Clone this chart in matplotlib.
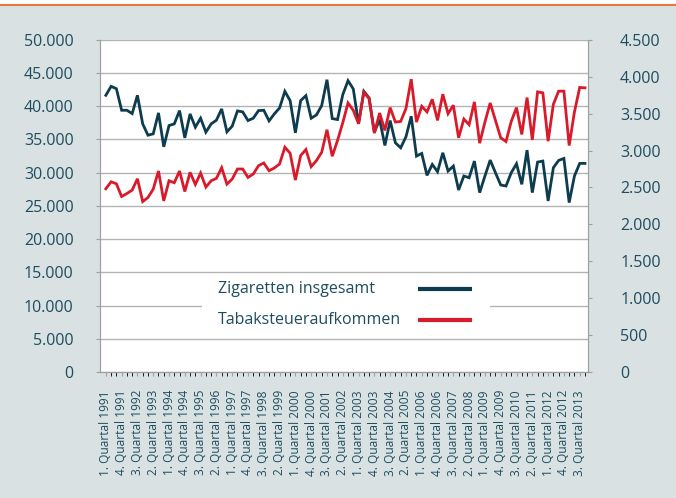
import numpy as np
import matplotlib
matplotlib.use("Agg")
import matplotlib.pyplot as plt
from matplotlib.lines import Line2D
from matplotlib.patches import Rectangle
from matplotlib.ticker import FuncFormatter, MultipleLocator

plt.rcParams['font.family'] = ['Open Sans', 'DejaVu Sans']

# Quartale 1/1991 bis 4/2013
years = list(range(1991, 2014))
quarters = [f"{q}. Quartal {y}" for y in years for q in range(1, 5)]

# Zigaretten insgesamt (Mio. Stück, linke Achse)
zigaretten = [
    41650, 43000, 42650, 39400, 39400, 38900, 41650, 37350, 35650, 35850,
    39000, 33900, 37100, 37350, 39350, 35250, 38850, 36850, 38200, 36100,
    37350, 37900, 39600, 36150, 37000, 39300, 39150, 37850, 38200, 39350,
    39400, 37800, 38850, 39750, 42250, 40850, 36000, 40850, 41600, 38200,
    38700, 40100, 44000, 38150, 38000, 41750, 43850, 42600, 37350, 42250,
    41250, 36100, 38000, 34100, 37850, 34500, 33750, 35400, 38500, 32500,
    32900, 29600, 31250, 30150, 33000, 30250, 31000, 27400, 29500, 29250,
    31750, 27000, 29500, 31900, 30000, 28150, 28000, 30000, 31350, 28250,
    33400, 27000, 31600, 31750, 25750, 30750, 31850, 32150, 25500, 29500,
    31400, 31400,
]

# Tabaksteueraufkommen (Mio. Euro, rechte Achse)
tabaksteuer = [
    2482, 2577, 2550, 2377, 2418, 2464, 2618, 2309, 2364, 2477,
    2723, 2318, 2591, 2564, 2723, 2445, 2705, 2541, 2695, 2505,
    2591, 2623, 2768, 2545, 2614, 2750, 2750, 2636, 2682, 2795,
    2832, 2727, 2764, 2818, 3045, 2964, 2600, 2932, 3014, 2782,
    2864, 2977, 3282, 2923, 3136, 3377, 3645, 3545, 3364, 3786,
    3705, 3236, 3509, 3273, 3582, 3386, 3395, 3568, 3968, 3386,
    3600, 3523, 3695, 3409, 3764, 3500, 3614, 3173, 3427, 3350,
    3659, 3100, 3386, 3645, 3409, 3173, 3123, 3395, 3582, 3218,
    3718, 3145, 3795, 3782, 3127, 3627, 3805, 3805, 3068, 3523,
    3855, 3850,
]

series_names = ['Zigaretten insgesamt', 'Tabaksteueraufkommen']

bg = '#d9e1e3'
teal = '#1d4d5e'
grid_c = '#b4b4b4'
dark = '#0d3c4e'
red = '#d91a2a'

W, H = 676, 498
fig = plt.figure(figsize=(W / 100, H / 100), dpi=100, facecolor=bg)
fig.add_artist(Rectangle((0, 0.989), 1, 0.011, transform=fig.transFigure,
                         facecolor='white', edgecolor='none'))
fig.add_artist(Line2D([0, 1], [0.989, 0.989], transform=fig.transFigure,
                      color='#e9773f', lw=1.5))

ax = fig.add_axes([0.148, 0.253, 0.722, 0.667])
ax2 = ax.twinx()

x = np.arange(len(quarters))
ax.plot(x, zigaretten, color=dark, lw=2.0, solid_joinstyle='miter')
ax2.plot(x, tabaksteuer, color=red, lw=2.0, solid_joinstyle='miter')

ax.set_xlim(-1.1, 91.6)
ax.set_ylim(0, 50000)
ax2.set_ylim(0, 4500)

fmt = FuncFormatter(lambda v, p: f"{int(v):,}".replace(',', '.'))
ax.yaxis.set_major_locator(MultipleLocator(5000))
ax2.yaxis.set_major_locator(MultipleLocator(500))
ax.yaxis.set_major_formatter(fmt)
ax2.yaxis.set_major_formatter(fmt)

ax.set_xticks(x[::3])
ax.set_xticklabels(quarters[::3], rotation=90, color=teal)
ax.set_xticks(x, minor=True)

ax.grid(axis='y', color=grid_c, lw=1)
ax.set_axisbelow(True)

for a in (ax, ax2):
    a.spines['top'].set_visible(False)
    for s in ('left', 'right', 'bottom'):
        a.spines[s].set_color('#a0a0a0')
    a.tick_params(colors='#a0a0a0', labelcolor=teal, labelsize=11.5)
ax.tick_params(axis='y', length=3, pad=16)
ax2.tick_params(axis='y', length=3, pad=20)
ax.tick_params(axis='x', which='both', length=3, pad=10, labelsize=8.6)


# Legende als weisser Kasten im Diagramm (Text links, Linie rechts)
def fx(px):
    return px / W


def fy(py):
    return 1 - py / H


fig.add_artist(Rectangle((fx(202), fy(337)), fx(490) - fx(202), fy(274) - fy(337),
                         transform=fig.transFigure, facecolor='white',
                         edgecolor='none', zorder=2))
for name, col, py in zip(series_names, [dark, red], [289, 320]):
    fig.text(fx(218), fy(py), name, color=teal, fontsize=11.5,
             va='center', ha='left', zorder=4)
    fig.add_artist(Line2D([fx(418), fx(472)], [fy(py), fy(py)],
                          transform=fig.transFigure, color=col, lw=3,
                          solid_capstyle='butt', zorder=3))

fig.savefig('out.png', dpi=100, facecolor=bg)
